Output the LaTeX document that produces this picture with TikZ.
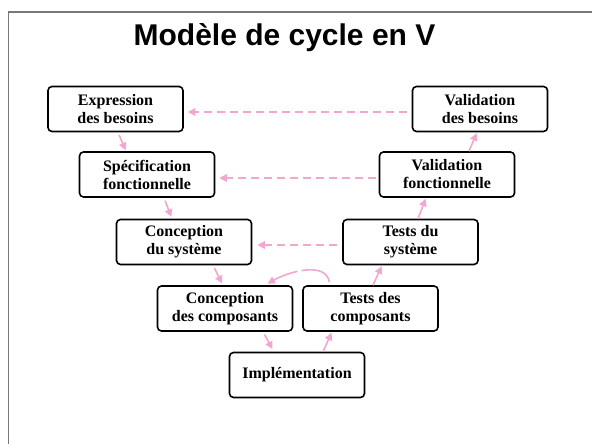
\documentclass[tikz,border=0pt]{standalone}
\usepackage{fontspec}
\setmainfont{Liberation Serif}
\newfontfamily\titlefont{Liberation Sans}
\usetikzlibrary{arrows.meta}
\definecolor{vpink}{RGB}{243,166,208}
\definecolor{framegray}{RGB}{120,120,120}
\tikzset{
  stage/.style={draw=black, line width=1.6pt, rounded corners=4pt,
    minimum width=135pt, minimum height=45pt, inner sep=0pt, align=center,
    font=\fontsize{16}{18}\selectfont\bfseries},
  flow/.style={draw=vpink, line width=1.6pt, -{Triangle[length=7.5pt,width=7.5pt]}},
  back/.style={flow, dash pattern=on 8pt off 5pt},
}
\begin{document}
\begin{tikzpicture}[x=1pt,y=-1pt]
\useasboundingbox (0,0) rectangle (592,444);
\fill[white] (0,0) rectangle (592,444);
\draw[framegray, line width=1.5pt] (8.5,444) -- (8.5,12) -- (592,12);

\node[font=\titlefont\fontsize{30}{34}\selectfont\bfseries] (title) at (284.5,38) {Modèle de cycle en V};

\node[stage] (exp) at (115.5,109) {Expression\\des besoins};
\node[stage] (valb) at (480,109) {Validation\\des besoins};
\node[stage] (spec) at (147,174.5) {Spécification\\fonctionnelle};
\node[stage] (valf) at (447,174.5) {Validation\\fonctionnelle};
\node[stage] (consys) at (184,242) {Conception\\du système};
\node[stage] (tsys) at (410.5,242) {Tests du\\système};
\node[stage] (concomp) at (225,308.5) {Conception\\des composants};
\node[stage] (tcomp) at (370.5,308.5) {Tests des\\composants};
\node[stage] (impl) at (297,375) {Implémentation};

% descending branch
\draw[flow, shorten <=3pt, shorten >=1pt] ([xshift=2.5pt]exp.south) -- ([xshift=-21pt]spec.north);
\draw[flow, shorten <=3pt, shorten >=2pt] ([xshift=17pt]spec.south) -- ([xshift=-12pt]consys.north);
\draw[flow, shorten <=3pt, shorten >=2pt] ([xshift=29pt]consys.south) -- ([xshift=-2pt]concomp.north);
\draw[flow, shorten <=3pt, shorten >=3pt] ([xshift=38pt]concomp.south) -- ([xshift=-23pt]impl.north);
% ascending branch
\draw[flow, shorten >=1pt] ([xshift=26pt]impl.north) -- ([xshift=-38.5pt]tcomp.south);
\draw[flow, shorten >=1pt] ([xshift=2.5pt]tcomp.north) -- ([xshift=-28.5pt]tsys.south);
\draw[flow, shorten >=1pt] ([xshift=7.5pt]tsys.north) -- ([xshift=-21pt]valf.south);
\draw[flow, shorten >=1pt] ([xshift=22pt]valf.north) -- ([xshift=-3pt]valb.south);

% validation feedback
\draw[back, shorten <=5pt, shorten >=4pt] ([yshift=-3pt]valb.west) -- ([yshift=-3pt]exp.east);
\draw[back, shorten <=3pt, shorten >=4pt] ([yshift=-3.5pt]valf.west) -- ([yshift=-3.5pt]spec.east);
\draw[back, shorten <=5pt, shorten >=5pt] ([yshift=-3pt]tsys.west) -- ([yshift=-3pt]consys.east);

% feedback between component tests and component design
\draw[flow, dash pattern=on 34pt off 4pt, shorten <=3pt, shorten >=3pt]
  ([xshift=-40.5pt]tcomp.north) to[out=100,in=30] ([xshift=40pt]concomp.north);
\end{tikzpicture}
\end{document}
